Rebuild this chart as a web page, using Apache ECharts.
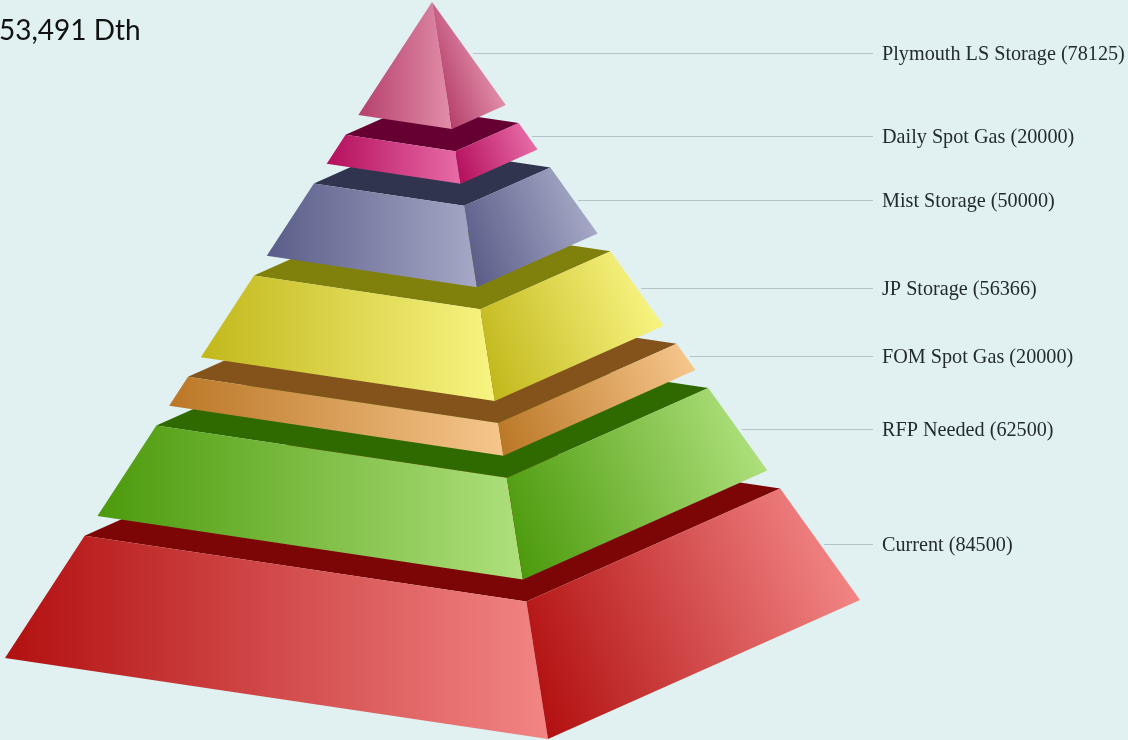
<!DOCTYPE html>
<html>
<head>
<meta charset="utf-8">
<style>html,body{margin:0;padding:0;background:#e1f0f0;overflow:hidden}#chart{width:1128px;height:740px}</style>
<script src="https://cdn.jsdelivr.net/npm/echarts@6/dist/echarts.min.js"></script>
</head>
<body>
<div id="chart"></div>
<script>
// Supply tiers, listed from the base of the pyramid upward (Dth)
const tierNames = ['Current', 'RFP Needed', 'FOM Spot Gas', 'JP Storage', 'Mist Storage', 'Daily Spot Gas', 'Plymouth LS Storage'];
const tierValues = [84500, 62500, 20000, 56366, 50000, 20000, 78125];
const totalCaption = '53,491 Dth';

// Face shades per tier: [dark end, light end, top face]
const tierShades = [
  ['#b21010', '#f28585', '#7c0606'],
  ['#4c9a0c', '#aee07c', '#2f6a00'],
  ['#bb7726', '#f6c68c', '#83531b'],
  ['#c2b81c', '#f8f482', '#80800c'],
  ['#5a5d88', '#a6a8c6', '#30344f'],
  ['#b40f5c', '#e86ca8', '#660033'],
  ['#b5406c', '#e28ea9', '#7a1c44']
];

// Separation between tiers, in the same units as the values
const tierGap = 13600;

// Solid geometry: apex and the three visible base corners, in page pixels
const apex = [432, 2];
const baseLeft = [5, 658];
const baseFront = [548, 739];
const baseRight = [860, 600];
const leaderEndX = 873;
const labelX = 882;

// Tilt of the shading across the right-hand faces, in radians
const rightShadeTilt = 0.35;

const axisTotal = tierValues.reduce((a, b) => a + b, 0) + tierGap * (tierValues.length - 1);

// Spans along the axis measured from the apex; each row is [start, end, tier index]
const spans = [];
let cursor = 0;
for (let i = tierValues.length - 1; i >= 0; i--) {
  spans[i] = [cursor, cursor + tierValues[i], i];
  cursor += tierValues[i] + tierGap;
}

const lerp = (a, b, t) => [a[0] + (b[0] - a[0]) * t, a[1] + (b[1] - a[1]) * t];

function faceGradient(p, q, dark, light) {
  return new echarts.graphic.LinearGradient(p[0], p[1], q[0], q[1], [
    { offset: 0, color: dark },
    { offset: 1, color: light }
  ], true);
}

function renderTier(params, api) {
  const start = api.value(0);
  const end = api.value(1);
  const idx = api.value(2);
  const yTop = api.coord([0, start])[1];
  const yBottom = api.coord([0, end])[1];
  const span = baseFront[1] - apex[1];
  const t0 = (yTop - apex[1]) / span;
  const t1 = (yBottom - apex[1]) / span;

  const tl = lerp(apex, baseLeft, t0), tf = lerp(apex, baseFront, t0), tr = lerp(apex, baseRight, t0);
  const bl = lerp(apex, baseLeft, t1), bf = lerp(apex, baseFront, t1), br = lerp(apex, baseRight, t1);
  const tb = [tl[0] + tr[0] - tf[0], tl[1] + tr[1] - tf[1]];
  const shade = tierShades[idx];

  // Right-face shading runs from the front ridge toward the far corner along a tilted line
  const dir = [Math.cos(rightShadeTilt), -Math.sin(rightShadeTilt)];
  const reach = (br[0] - bf[0]) * dir[0] + (br[1] - bf[1]) * dir[1];
  const shadeEnd = [bf[0] + dir[0] * reach, bf[1] + dir[1] * reach];

  const midRight = lerp(tr, br, 0.5);
  const leaderY = Math.floor(midRight[1]) + 0.5;

  const children = [];
  if (t0 > 0) {
    children.push({
      type: 'polygon', silent: true,
      shape: { points: [tl, tb, tr, tf] },
      style: { fill: shade[2] }
    });
  }
  children.push({
    type: 'polygon', silent: true,
    shape: { points: [tl, tf, bf, bl] },
    style: { fill: faceGradient([bl[0], tl[1]], [bf[0], tl[1]], shade[0], shade[1]) }
  });
  children.push({
    type: 'polygon', silent: true,
    shape: { points: [tf, tr, br, bf] },
    style: { fill: faceGradient(bf, shadeEnd, shade[0], shade[1]) }
  });
  children.push({
    type: 'line', silent: true,
    shape: { x1: midRight[0] + 4, y1: leaderY, x2: leaderEndX, y2: leaderY },
    style: { stroke: '#b3c3c6', lineWidth: 1 }
  });
  children.push({
    type: 'text', silent: true,
    style: {
      x: labelX, y: leaderY + 1,
      text: tierNames[idx] + ' (' + tierValues[idx] + ')',
      fill: '#232b2e',
      font: '20.2px "Liberation Serif", serif',
      textAlign: 'left', textVerticalAlign: 'middle'
    }
  });
  return { type: 'group', children };
}

const chart = echarts.init(document.getElementById('chart'), null, { renderer: 'canvas' });
chart.setOption({
  animation: false,
  backgroundColor: '#e1f0f0',
  grid: { left: 0, right: 0, top: apex[1], bottom: 740 - baseFront[1] },
  xAxis: { type: 'value', show: false, min: 0, max: 1 },
  yAxis: { type: 'value', show: false, inverse: true, min: 0, max: axisTotal },
  graphic: [{
    type: 'text', silent: true, left: -1, top: 17,
    style: { text: totalCaption, fill: '#111', font: '28px Lato, sans-serif' }
  }],
  series: [{
    type: 'custom',
    coordinateSystem: 'cartesian2d',
    clip: false,
    renderItem: renderTier,
    encode: { x: -1, y: [0, 1] },
    data: spans
  }]
});
</script>
</body>
</html>
